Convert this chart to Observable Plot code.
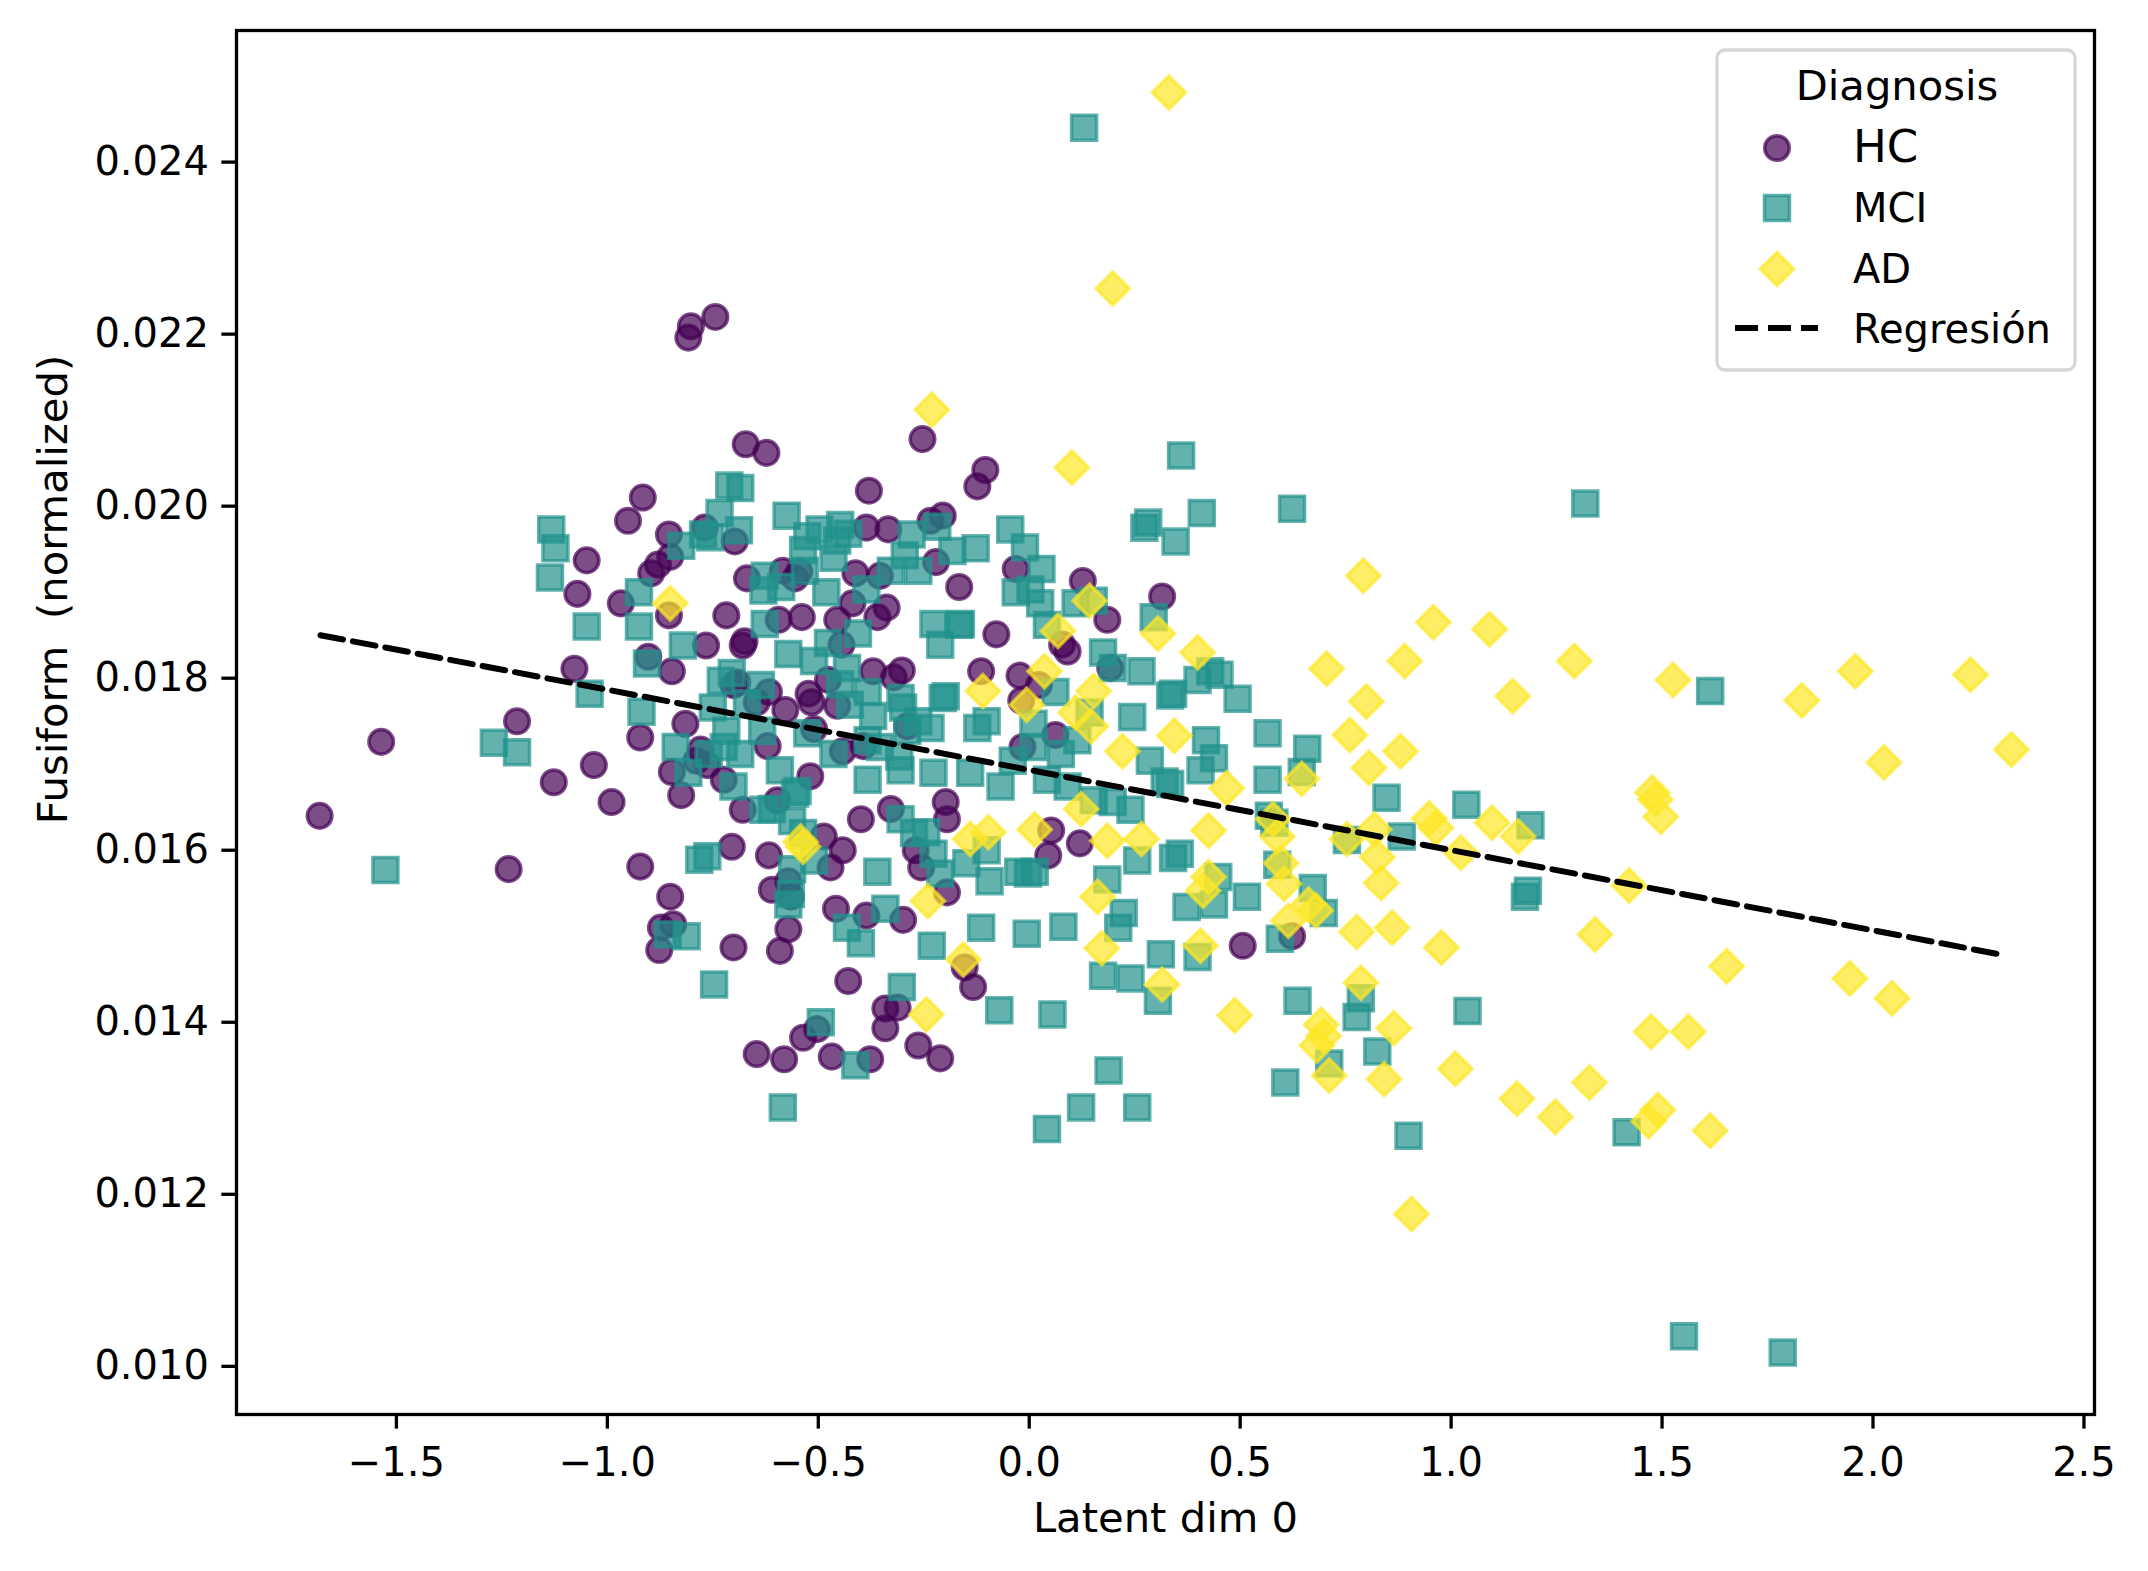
<!DOCTYPE html>
<html>
<head>
<meta charset="utf-8">
<script src="https://cdn.jsdelivr.net/npm/d3@7"></script>
<script src="https://cdn.jsdelivr.net/npm/@observablehq/plot@0.6"></script>
<style>
  html, body { margin: 0; padding: 0; background: white; }
  #chart svg g[aria-label="x-axis tick"] path,
  #chart svg g[aria-label="y-axis tick"] path,
  #chart svg .tick line { stroke-width: 3.3px !important; }
</style>
</head>
<body>
<div id="chart"></div>
<script>
// ---- data ----
const groups = ["HC", "MCI", "AD"];

const hcX = [-1.682,-1.536,-1.234,-1.214,-1.127,-1.078,-1.071,-1.049,-1.032,-0.990,
-0.968,-0.951,-0.922,-0.922,-0.916,-0.896,-0.880,-0.877,-0.873,-0.854,
-0.851,-0.847,-0.847,-0.851,-0.844,-0.825,-0.815,-0.808,-0.802,-0.769,
-0.766,-0.744,-0.789,-0.701,-0.698,-0.692,-0.679,-0.672,-0.669,-0.646,
-0.646,-0.623,-0.620,-0.617,-0.610,-0.591,-0.581,-0.571,-0.571,-0.555,
-0.545,-0.536,-0.539,-0.523,-0.516,-0.510,-0.503,-0.487,-0.477,-0.468,
-0.458,-0.445,-0.442,-0.429,-0.412,-0.399,-0.393,-0.386,-0.380,-0.386,
-0.370,-0.360,-0.354,-0.341,-0.341,-0.334,-0.328,-0.321,-0.312,-0.302,
-0.299,-0.289,-0.269,-0.263,-0.253,-0.234,-0.221,-0.211,-0.205,-0.198,
-0.166,-0.133,-0.123,-0.114,-0.104,-0.078,-0.032,-0.023,-0.016,0.023,
0.045,0.052,0.062,0.078,0.091,0.127,0.185,0.315,0.506,0.623,
-0.584,-0.718,-0.594,-0.419,-0.338,-0.455,-0.675,0.192,-0.617,-0.578,
-0.455,-0.019,-0.701,-0.779,-0.724,-0.519,-0.679,-0.597,-0.195,0.120,
-0.705,-0.442,-0.471,-0.256,-0.565,-0.195,-0.153,-0.854,-0.903,-0.763,-0.377];
const hcY = [0.01640,0.01726,0.01578,0.01750,0.01679,0.01811,0.01898,0.01937,0.01699,0.01656,
0.01887,0.01983,0.01731,0.01581,0.02010,0.01922,0.01932,0.01484,0.01510,0.01967,
0.01941,0.01808,0.01691,0.01546,0.01514,0.01664,0.01747,0.02196,0.02209,0.01975,
0.01838,0.02220,0.01704,0.01487,0.01959,0.01795,0.01838,0.02072,0.01916,0.01363,
0.01772,0.02062,0.01721,0.01594,0.01554,0.01483,0.01357,0.01508,0.01564,0.01916,
0.01924,0.01382,0.01871,0.01782,0.01772,0.01741,0.01392,0.01616,0.01798,0.01360,
0.01532,0.01839,0.01715,0.01448,0.01922,0.01636,0.01721,0.01524,0.02018,0.01975,
0.01808,0.01871,0.01919,0.01393,0.01416,0.01973,0.01648,0.01801,0.01417,0.01809,
0.01519,0.01744,0.01600,0.01373,0.02078,0.01983,0.01935,0.01358,0.01989,0.01656,
0.01906,0.01441,0.02023,0.01808,0.02042,0.01851,0.01927,0.01803,0.01720,0.01792,
0.01594,0.01623,0.01734,0.01839,0.01831,0.01913,0.01868,0.01895,0.01489,0.01500,
0.01925,0.01873,0.01868,0.01887,0.01882,0.01868,0.01843,0.01812,0.01784,0.01763,
0.01768,0.01774,0.01792,0.01717,0.01682,0.01686,0.01647,0.01658,0.01636,0.01608,
0.01604,0.01600,0.01580,0.01580,0.01546,0.01551,0.01464,0.01873,0.01825,0.01699,0.01357];

const mciX = [-1.526,-1.269,-1.214,-1.133,-1.123,-1.136,-1.049,-1.042,-0.925,-0.925,
-0.919,-0.906,-0.857,-0.838,-0.825,-0.821,-0.812,-0.808,-0.782,-0.773,
-0.747,-0.734,-0.711,-0.685,-0.731,-0.718,-0.685,-0.636,-0.627,-0.610,
-0.588,-0.584,-0.575,-0.571,-0.562,-0.555,-0.532,-0.526,-0.494,-0.497,
-0.481,-0.464,-0.448,-0.432,-0.425,-0.412,-0.399,-0.386,-0.370,-0.360,
-0.341,-0.328,-0.308,-0.302,-0.295,-0.279,-0.263,-0.244,-0.231,-0.218,
-0.211,-0.198,-0.182,-0.166,-0.149,-0.140,-0.127,-0.114,-0.101,-0.094,
-0.071,-0.045,-0.026,-0.006,-0.010,0.003,0.013,0.029,0.042,0.055,
0.062,0.081,0.110,0.123,0.130,0.143,0.175,0.175,0.188,0.198,
0.211,0.224,0.240,0.244,0.256,0.266,0.273,0.282,0.305,0.312,
0.321,0.341,0.347,0.360,0.373,0.399,0.409,0.419,0.429,0.438,
0.451,0.494,0.516,0.565,0.581,0.594,0.607,0.623,0.636,0.659,
0.672,0.711,0.753,0.776,0.786,0.825,0.847,0.883,0.899,1.036,
1.039,1.175,1.182,1.188,1.318,1.614,1.416,1.552,1.786,
-0.688,-0.756,-0.429,-0.536,-0.455,-0.630,-0.263,-0.032,0.026,0.042,0.153,
0.295,-0.627,-0.227,-0.162,-0.705,-0.750,-0.633,-0.669,-0.701,-0.591,
-0.549,-0.630,-0.571,-0.510,-0.477,-0.406,-0.432,-0.448,-0.383,-0.305,
-0.299,-0.464,-0.383,-0.354,-0.526,-0.383,-0.305,-0.227,-0.289,-0.234,
-0.205,-0.123,-0.101,-0.068,-0.039,0.010,0.075,0.042,0.010,0.114,
0.091,0.153,0.240,0.286,0.198,0.341,-0.763,-0.510,-0.562,-0.536,
-0.565,-0.305,-0.273,-0.227,-0.211,-0.003,0.256,0.357,0.185,0.399,
0.334,0.438,0.406,0.334,0.565,0.646,0.568,0.448,0.588,0.698,
-0.760,-0.724];
const mciY = [0.01577,0.01725,0.01714,0.01973,0.01951,0.01917,0.01860,0.01782,0.01900,0.01860,
0.01761,0.01817,0.01502,0.01720,0.01954,0.01838,0.01500,0.01690,0.01589,0.01967,
0.01444,0.01992,0.02024,0.02021,0.01797,0.01739,0.01712,0.01792,0.01919,0.01648,
0.01906,0.01301,0.01989,0.01537,0.01578,0.01666,0.01925,0.01965,0.01400,0.01973,
0.01900,0.01940,0.01978,0.01510,0.01769,0.01350,0.01492,0.01903,0.01756,0.01575,
0.01532,0.01925,0.01709,0.01441,0.01943,0.01967,0.01750,0.01621,0.01489,0.01976,
0.01839,0.01779,0.01948,0.01862,0.01585,0.01690,0.01951,0.01510,0.01600,0.01564,
0.01414,0.01973,0.01575,0.01503,0.01952,0.01903,0.01575,0.01927,0.01276,0.01409,
0.01784,0.01511,0.01887,0.01301,0.02440,0.01760,0.01454,0.01830,0.01344,0.01656,
0.01510,0.01527,0.01451,0.01755,0.01301,0.01808,0.01975,0.01981,0.01425,0.01479,
0.01680,0.01591,0.01959,0.02059,0.01534,0.01476,0.01992,0.01728,0.01808,0.01537,
0.01804,0.01776,0.01546,0.01736,0.01632,0.01497,0.01330,0.01997,0.01425,0.01718,
0.01556,0.01352,0.01612,0.01406,0.01428,0.01366,0.01661,0.01616,0.01268,0.01653,
0.01413,0.01546,0.01553,0.01629,0.02003,0.01785,0.01272,0.01035,0.01016,
0.01972,0.01964,0.01968,0.01949,0.01960,0.01902,0.01925,0.01900,0.01887,0.01862,0.01890,
0.01871,0.01863,0.01863,0.01863,0.01806,0.01766,0.01739,0.01771,0.01674,0.01693,
0.01669,0.01647,0.01828,0.01820,0.01841,0.01852,0.01812,0.01793,0.01784,0.01777,
0.01766,0.01712,0.01728,0.01720,0.01736,0.01682,0.01693,0.01690,0.01739,0.01742,
0.01777,0.01742,0.01750,0.01674,0.01704,0.01720,0.01712,0.01682,0.01747,0.01728,
0.01674,0.01658,0.01647,0.01704,0.01812,0.01782,0.01593,0.01588,0.01634,0.01620,
0.01549,0.01636,0.01620,0.01596,0.01573,0.01573,0.01588,0.01596,0.01566,0.01798,
0.01780,0.01707,0.01693,0.01677,0.01682,0.01691,0.01640,0.01569,0.01583,0.01527,
0.01712,0.01720];

const adX = [-0.851,-0.542,-0.536,-0.244,-0.231,-0.240,-0.156,-0.140,-0.110,-0.006,
0.013,0.036,0.068,0.101,0.110,0.123,0.143,0.146,0.153,0.162,
0.172,0.185,0.198,0.221,0.266,0.305,0.315,0.331,0.344,0.399,
0.406,0.412,0.425,0.425,0.468,0.487,0.578,0.588,0.597,0.604,
0.614,0.646,0.662,0.679,0.692,0.698,0.705,0.711,0.753,0.760,
0.776,0.786,0.792,0.799,0.805,0.818,0.825,0.834,0.841,0.860,
0.864,0.880,0.890,0.906,0.948,0.958,0.964,0.977,1.010,1.023,
1.091,1.097,1.146,1.156,1.159,1.247,1.292,1.328,1.341,1.422,
1.468,1.474,1.477,1.484,1.490,1.497,1.526,1.562,1.614,1.653,
1.831,1.945,1.958,2.026,2.045,2.231,2.328,-0.097,0.682];
const adY = [0.01887,0.01610,0.01604,0.01409,0.02112,0.01541,0.01473,0.01613,0.01785,0.01769,
0.01624,0.01808,0.01855,0.02045,0.01760,0.01648,0.01890,0.01744,0.01785,0.01546,
0.01486,0.01611,0.02253,0.01715,0.01613,0.01852,0.01444,0.02481,0.01733,0.01830,
0.01489,0.01553,0.01623,0.01569,0.01672,0.01408,0.01636,0.01616,0.01585,0.01561,
0.01518,0.01683,0.01537,0.01530,0.01397,0.01384,0.01811,0.01338,0.01613,0.01734,
0.01505,0.01446,0.01919,0.01773,0.01696,0.01624,0.01592,0.01562,0.01334,0.01510,
0.01393,0.01715,0.01820,0.01177,0.01637,0.01865,0.01626,0.01487,0.01346,0.01597,
0.01857,0.01632,0.01779,0.01311,0.01616,0.01290,0.01820,0.01330,0.01502,0.01559,
0.01285,0.01389,0.01667,0.01659,0.01298,0.01639,0.01798,0.01389,0.01274,0.01465,
0.01774,0.01451,0.01808,0.01702,0.01428,0.01804,0.01717,0.01621,0.01373];

// regression line end points
const regX = [-1.68, 2.31];
const regY = [0.01850, 0.01478];

const xTicks = [-1.5, -1.0, -0.5, 0.0, 0.5, 1.0, 1.5, 2.0, 2.5];
const yTicks = [0.010, 0.012, 0.014, 0.016, 0.018, 0.020, 0.022, 0.024];

// ---- build tables ----
const zip = (xs, ys) => xs.slice(0, Math.min(xs.length, ys.length)).map((x, i) => ({x, y: ys[i]}));
const hc = zip(hcX, hcY), mci = zip(mciX, mciY), ad = zip(adX, adY);
const reg = zip(regX, regY);

const colors = {HC: "#440154", MCI: "#21918c", AD: "#fde725"};
const fmtX = d3.format(".1f");
const fmtY = d3.format(".3f");
const FONT = "DejaVu Sans";

const chart = Plot.plot({
  width: 2148,
  height: 1571,
  marginLeft: 236,
  marginRight: 54,
  marginTop: 30,
  marginBottom: 157,
  style: {fontFamily: FONT, fontSize: "40px", color: "black", background: "white"},
  x: {domain: [-1.879, 2.525], ticks: xTicks, tickFormat: fmtX, tickSize: 14.6, tickPadding: 18, label: null},
  y: {domain: [0.00944, 0.02553], ticks: yTicks, tickFormat: fmtY, tickSize: 14.6, tickPadding: 13, label: null},
  marks: [
    Plot.dot(hc, {x: "x", y: "y", symbol: "circle", r: 12.3, fill: colors.HC, fillOpacity: 0.7, stroke: colors.HC, strokeOpacity: 0.7, strokeWidth: 3.5}),
    Plot.dot(mci, {x: "x", y: "y", symbol: "square", r: 14.1, fill: colors.MCI, fillOpacity: 0.7, stroke: colors.MCI, strokeOpacity: 0.7, strokeWidth: 3.5}),
    Plot.dot(ad, {x: "x", y: "y", symbol: "diamond2", r: 14.9, fill: colors.AD, fillOpacity: 0.7, stroke: colors.AD, strokeOpacity: 0.7, strokeWidth: 3.5}),
    Plot.line(reg, {x: "x", y: "y", stroke: "black", strokeWidth: 6, strokeDasharray: "23,10"}),
    Plot.frame({stroke: "black", strokeWidth: 3.3}),
    Plot.text(["Latent dim 0"], {frameAnchor: "bottom", dy: 117, textAnchor: "middle", text: d => d, fontSize: 41.7, fill: "black"}),
    Plot.text(["Fusiform  (normalized)"], {frameAnchor: "left", dx: -183, dy: -133, rotate: -90, textAnchor: "middle", text: d => d, fontSize: 41.7, fill: "black"})
  ]
});

document.getElementById("chart").appendChild(chart);

// ---- legend (inside the plot, upper right) ----
const svg = d3.select(chart);
const lg = svg.append("g").attr("font-family", FONT).attr("fill", "black").attr("text-anchor", "start");
lg.append("rect")
  .attr("x", 1717).attr("y", 50).attr("width", 358).attr("height", 320)
  .attr("rx", 8).attr("ry", 8)
  .attr("fill", "white").attr("fill-opacity", 0.8)
  .attr("stroke", "#cccccc").attr("stroke-opacity", 0.8).attr("stroke-width", 3.3);
lg.append("text").attr("x", 1897).attr("y", 100).attr("text-anchor", "middle")
  .attr("font-size", 41.7).text("Diagnosis");

const entries = [
  {name: groups[0], sym: d3.symbolCircle, size: Math.PI * 12.3 * 12.3, cy: 148, base: 162, fs: 45},
  {name: groups[1], sym: d3.symbolSquare, size: Math.PI * 14.1 * 14.1, cy: 208, base: 222, fs: 40},
  {name: groups[2], sym: d3.symbolDiamond2, size: Math.PI * 14.9 * 14.9, cy: 269, base: 283, fs: 40}
];
for (const e of entries) {
  lg.append("path")
    .attr("transform", `translate(1777,${e.cy})`)
    .attr("d", d3.symbol(e.sym, e.size)())
    .attr("fill", colors[e.name]).attr("fill-opacity", 0.7)
    .attr("stroke", colors[e.name]).attr("stroke-opacity", 0.7).attr("stroke-width", 3.5);
  lg.append("text").attr("x", 1853).attr("y", e.base).attr("text-anchor", "start")
    .attr("font-size", e.fs).text(e.name);
}
lg.append("line").attr("x1", 1735).attr("x2", 1818).attr("y1", 328).attr("y2", 328)
  .attr("stroke", "black").attr("stroke-width", 6).attr("stroke-dasharray", "23,10");
lg.append("text").attr("x", 1853).attr("y", 343).attr("text-anchor", "start")
  .attr("font-size", 40).text("Regresión");
</script>
</body>
</html>
